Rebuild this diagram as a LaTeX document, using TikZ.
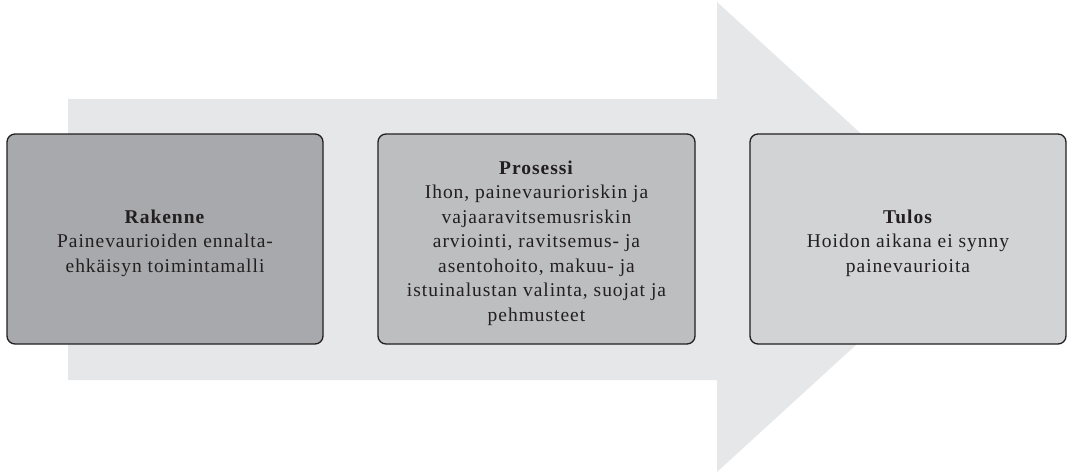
\documentclass[tikz,border=0pt]{standalone}
\usepackage{fontspec}
\setmainfont{Liberation Serif}[LetterSpace=5]
\definecolor{arrowgray}{HTML}{E6E7E8}
\definecolor{boxA}{HTML}{A7A9AC}
\definecolor{boxB}{HTML}{BCBEC0}
\definecolor{boxC}{HTML}{D1D3D4}
\definecolor{edge}{HTML}{231F20}
\begin{document}
\begin{tikzpicture}[x=1pt,y=-1pt,
  stagebox/.style={draw=edge,line width=1.3pt,rounded corners=8pt,
    minimum width=316pt,minimum height=210pt},
  stagetext/.style={align=center,text=edge,inner sep=0pt,
    font=\fontsize{19.5}{24.5}\selectfont}]
\useasboundingbox (0,0) rectangle (1069,474);
\fill[arrowgray] (68,99) -- (717,99) -- (717,2) -- (974,237) -- (717,472) -- (717,380) -- (68,380) -- cycle;
\node[stagebox,fill=boxA] (rakenne) at (165,239) {};
\node[stagebox,fill=boxB,minimum width=317pt] (prosessi) at (536.5,239) {};
\node[stagebox,fill=boxC] (tulos) at (908,239) {};
\node[stagetext] (rakenneT) at ([yshift=-4pt]rakenne.center) {\textbf{Rakenne}\\Painevaurioiden ennalta-\\ehkäisyn toimintamalli};
\node[stagetext] (prosessiT) at ([yshift=-4pt]prosessi.center) {\textbf{Prosessi}\\Ihon, painevaurioriskin ja\\vajaaravitsemusriskin\\arviointi, ravitsemus- ja\\asentohoito, makuu- ja\\istuinalustan valinta, suojat ja\\pehmusteet};
\node[stagetext] (tulosT) at ([yshift=-4pt]tulos.center) {\textbf{Tulos}\\Hoidon aikana ei synny\\painevaurioita};
\end{tikzpicture}
\end{document}
